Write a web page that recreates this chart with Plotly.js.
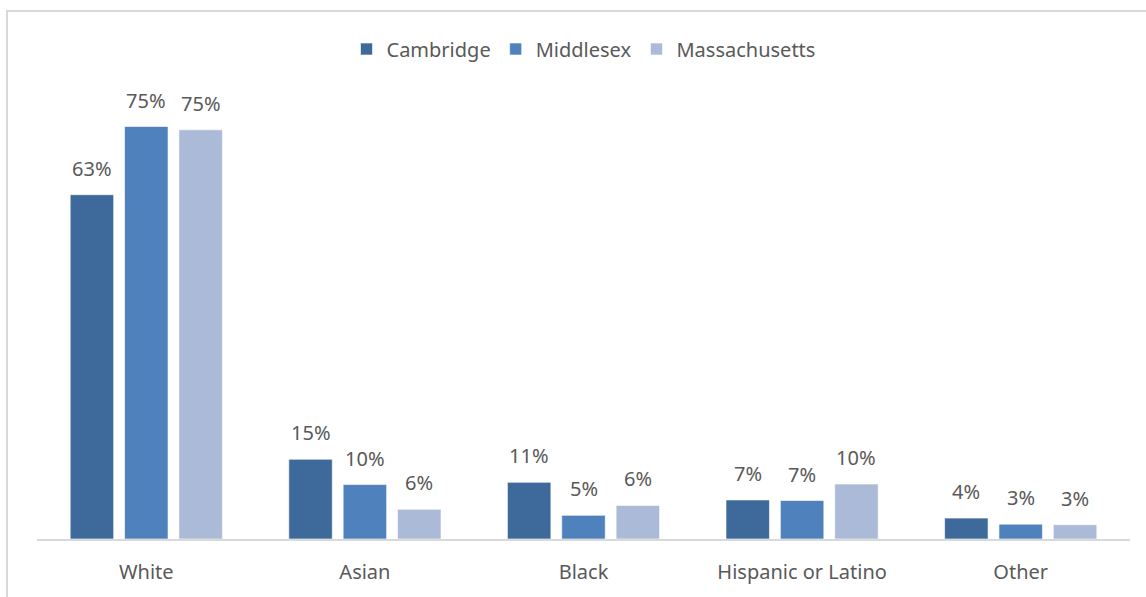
<!DOCTYPE html>
<html>
<head>
<meta charset="utf-8">
<script src="https://cdn.plot.ly/plotly-3.0.1.min.js"></script>
<style>html,body{margin:0;padding:0;background:#fff;}#chart{width:1146px;height:597px;}</style>
</head>
<body>
<div id="chart"></div>
<script>
const categories = ["White", "Asian", "Black", "Hispanic or Latino", "Other"];
const seriesNames = ["Cambridge", "Middlesex", "Massachusetts"];
const cambridge = [62.6, 14.5, 10.3, 7.1, 3.8];
const middlesex = [75.0, 9.9, 4.3, 7.0, 2.7];
const massachusetts = [74.4, 5.4, 6.1, 10.0, 2.6];
const cambridgeLabels = ["63%", "15%", "11%", "7%", "4%"];
const middlesexLabels = ["75%", "10%", "5%", "7%", "3%"];
const massachusettsLabels = ["75%", "6%", "6%", "10%", "3%"];

const colors = ["#3E6A9B", "#4F81BD", "#AABAD7"];
const values = [cambridge, middlesex, massachusetts];
const labels = [cambridgeLabels, middlesexLabels, massachusettsLabels];

const traces = values.map((v, i) => ({
  type: "bar",
  name: seriesNames[i],
  x: categories,
  y: v,
  marker: {color: colors[i], line: {color: "rgba(255,255,255,0.6)", width: 1}},
  hoverinfo: "skip"
}));

const slot = 54.3;
const annotations = [];
values.forEach((v, i) => {
  v.forEach((val, j) => {
    annotations.push({
      x: categories[j], y: val, xref: "x", yref: "y",
      text: labels[i][j], showarrow: false,
      xshift: (i - 1) * slot, yshift: 11, yanchor: "bottom",
      font: {family: "Noto Sans", size: 20, color: "#595959"}
    });
  });
});

const layout = {
  width: 1146, height: 597,
  margin: {l: 37, r: 16, t: 99, b: 58},
  paper_bgcolor: "#ffffff", plot_bgcolor: "#ffffff",
  font: {family: "Noto Sans", size: 20, color: "#595959"},
  barmode: "group", bargap: 0.254, bargroupgap: 0.2,
  showlegend: true,
  legend: {orientation: "h", x: 0.5, xanchor: "center", y: 1.1136, yanchor: "middle",
           font: {family: "Noto Sans", size: 20, color: "#595959"}},
  xaxis: {showgrid: false, showline: true, linecolor: "#d9d9d9", linewidth: 2,
          ticks: "", ticklabelstandoff: 14,
          tickfont: {family: "Noto Sans", size: 20, color: "#595959"}, fixedrange: true},
  yaxis: {range: [0, 80], showgrid: false, showline: false, showticklabels: false,
          zeroline: false, ticks: "", fixedrange: true},
  annotations: annotations,
  shapes: [{type: "rect", xref: "paper", yref: "paper", x0: -0.02745, x1: 1.3, y0: -0.5, y1: 1.2,
            line: {color: "#d9d9d9", width: 2}, layer: "below"}]
};

Plotly.newPlot("chart", traces, layout, {displayModeBar: false, staticPlot: true});
</script>
</body>
</html>
